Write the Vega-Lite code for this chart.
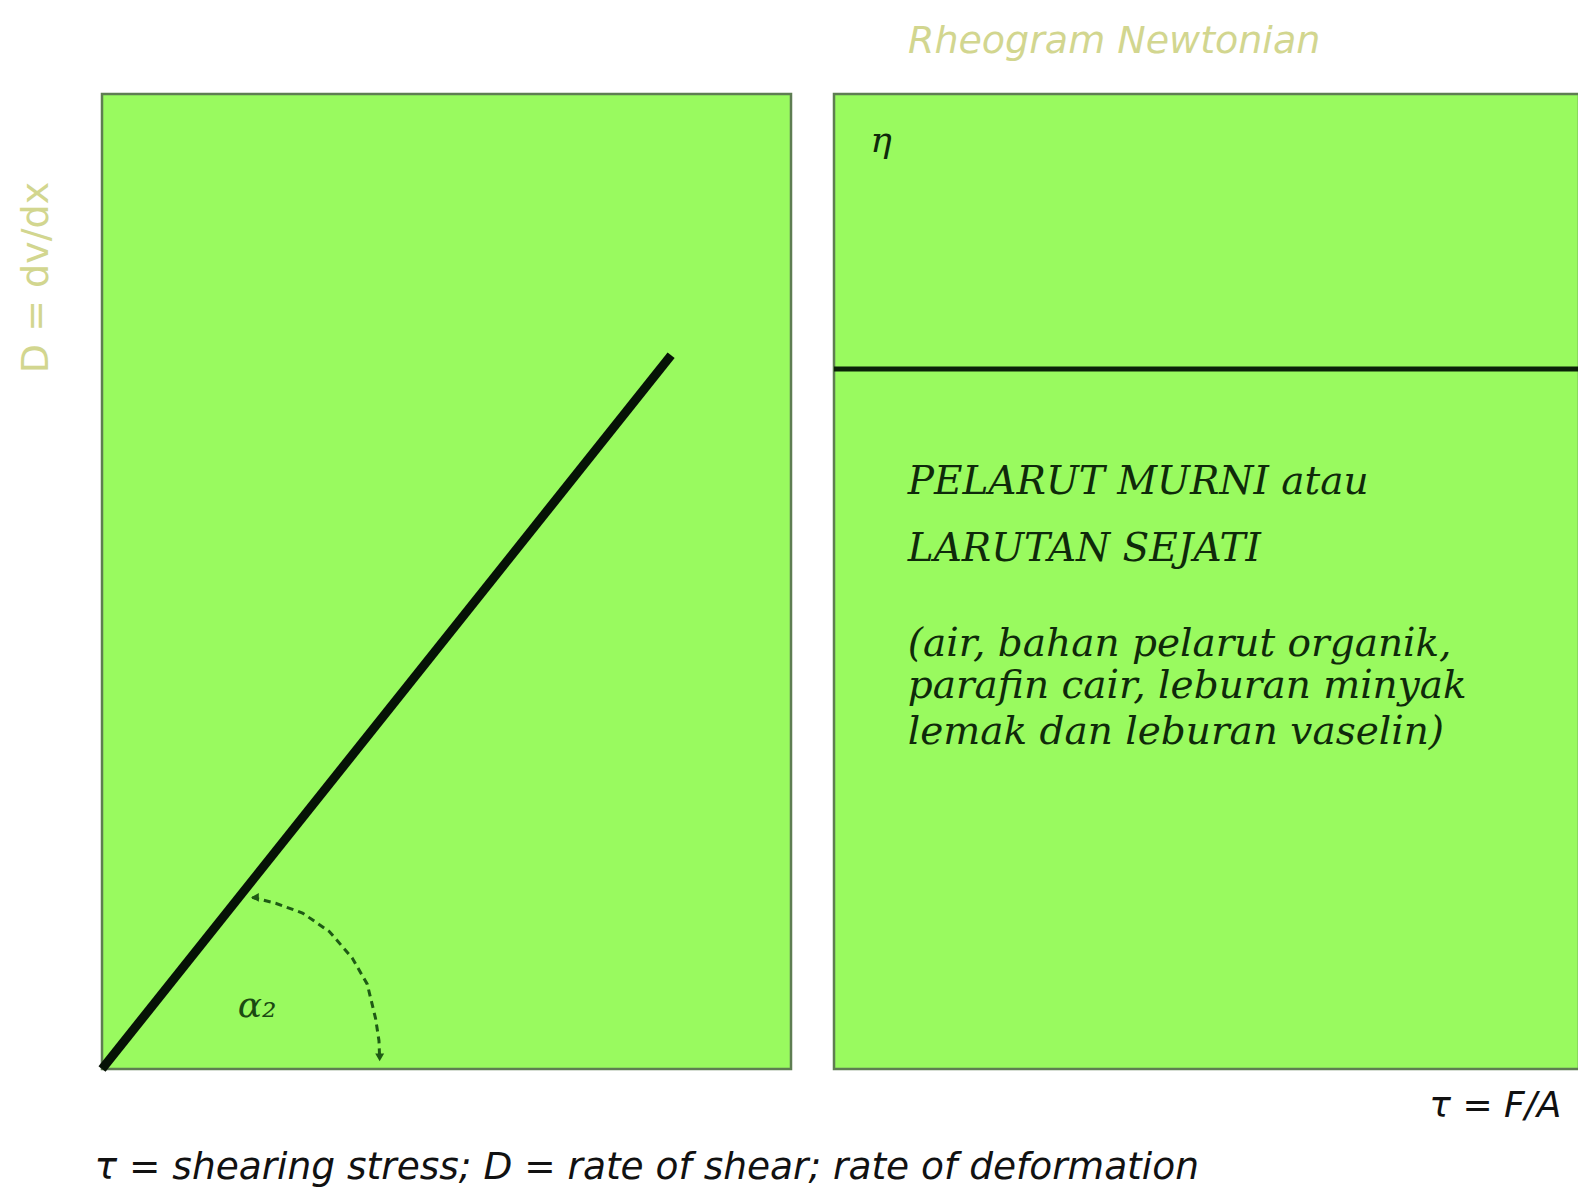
{
  "$schema": "https://vega.github.io/schema/vega-lite/v6.json",
  "background": "white",
  "padding": {"left": 15, "top": 21, "right": 0, "bottom": 0},
  "bounds": "flush",
  "spacing": 43,
  "datasets": {
    "diag": [{"x": 0, "y": 0}, {"x": 0.826, "y": 0.732}],
    "arc": [
      {"x": 0.218, "y": 0.176, "o": 1},
      {"x": 0.252, "y": 0.170, "o": 2},
      {"x": 0.291, "y": 0.160, "o": 3},
      {"x": 0.330, "y": 0.141, "o": 4},
      {"x": 0.363, "y": 0.114, "o": 5},
      {"x": 0.385, "y": 0.087, "o": 6},
      {"x": 0.397, "y": 0.052, "o": 7},
      {"x": 0.402, "y": 0.029, "o": 8},
      {"x": 0.403, "y": 0.010, "o": 9}
    ],
    "heads": [
      {"x": 0.222, "y": 0.176, "s": "triangle-left"},
      {"x": 0.403, "y": 0.012, "s": "triangle-down"}
    ],
    "alpha": [{"x": 0.225, "y": 0.065, "t": "α₂"}],
    "flat": [{"x": 0, "y": 0.718}, {"x": 1, "y": 0.718}],
    "eta": [{"x": 0.063, "y": 0.952, "t": "η"}],
    "lines": [
      {"x": 0.099, "y": 0.590, "t": "PELARUT MURNI atau"},
      {"x": 0.099, "y": 0.521, "t": "LARUTAN SEJATI"},
      {"x": 0.099, "y": 0.424, "t": "(air, bahan pelarut organik,"},
      {"x": 0.099, "y": 0.381, "t": "parafin cair, leburan minyak"},
      {"x": 0.099, "y": 0.333, "t": "lemak dan leburan vaselin)"}
    ]
  },
  "hconcat": [
    {
      "width": 689,
      "height": 975,
      "view": {"fill": "#99fa5f", "stroke": "#5e7d52", "strokeWidth": 2.5},
      "encoding": {
        "x": {
          "field": "x", "type": "quantitative",
          "scale": {"domain": [0, 1], "nice": false, "zero": false},
          "axis": {
            "title": "τ = shearing stress; D = rate of shear; rate of deformation",
            "labels": false, "ticks": false, "domain": false, "grid": false,
            "titleX": -8, "titleY": 109, "titleAlign": "left", "titleBaseline": "alphabetic",
            "titleFont": "DejaVu Sans", "titleFontStyle": "italic", "titleFontWeight": "normal",
            "titleFontSize": 37.5, "titleColor": "#111111", "titleLimit": 2000
          }
        },
        "y": {
          "field": "y", "type": "quantitative",
          "scale": {"domain": [0, 1], "nice": false, "zero": false},
          "axis": {
            "title": "D = dv/dx",
            "labels": false, "ticks": false, "domain": false, "grid": false,
            "titleX": -66, "titleY": 183, "titleAngle": -90, "titleAlign": "center", "titleBaseline": "middle",
            "titleFont": "DejaVu Sans", "titleFontWeight": "normal", "titleFontSize": 38,
            "titleColor": "#d2d68f", "titleLimit": 2000
          }
        }
      },
      "layer": [
        {
          "data": {"name": "diag"},
          "mark": {"type": "line", "color": "#061206", "strokeWidth": 9}
        },
        {
          "data": {"name": "arc"},
          "mark": {"type": "line", "color": "#1e5a14", "strokeWidth": 3, "strokeDash": [7, 5]},
          "encoding": {"order": {"field": "o", "type": "quantitative"}}
        },
        {
          "data": {"name": "heads"},
          "mark": {"type": "point", "filled": true, "color": "#1e5a14", "size": 80, "opacity": 1},
          "encoding": {"shape": {"field": "s", "type": "nominal", "scale": null, "legend": null}}
        },
        {
          "data": {"name": "alpha"},
          "mark": {"type": "text", "font": "DejaVu Serif", "fontStyle": "italic", "fontSize": 36, "color": "#1b4a12", "align": "center", "baseline": "middle"},
          "encoding": {"text": {"field": "t"}}
        }
      ]
    },
    {
      "width": 745,
      "height": 975,
      "view": {"fill": "#99fa5f", "stroke": "#5e7d52", "strokeWidth": 2.5},
      "title": {
        "text": "Rheogram Newtonian", "anchor": "start", "dx": 84, "offset": 33,
        "font": "DejaVu Sans", "fontStyle": "italic", "fontWeight": "normal", "fontSize": 38,
        "color": "#d2d68f"
      },
      "encoding": {
        "x": {
          "field": "x", "type": "quantitative",
          "scale": {"domain": [0, 1], "nice": false, "zero": false},
          "axis": {
            "title": "τ = F/A",
            "labels": false, "ticks": false, "domain": false, "grid": false,
            "titleX": 727, "titleY": 47, "titleAlign": "right", "titleBaseline": "alphabetic",
            "titleFont": "DejaVu Sans", "titleFontStyle": "italic", "titleFontWeight": "normal",
            "titleFontSize": 36, "titleColor": "#111111"
          }
        },
        "y": {
          "field": "y", "type": "quantitative",
          "scale": {"domain": [0, 1], "nice": false, "zero": false},
          "axis": null
        }
      },
      "layer": [
        {
          "data": {"name": "flat"},
          "mark": {"type": "line", "color": "#0b2208", "strokeWidth": 5}
        },
        {
          "data": {"name": "eta"},
          "mark": {"type": "text", "font": "DejaVu Serif", "fontStyle": "italic", "fontSize": 36, "color": "#0f2a0a", "align": "center", "baseline": "middle"},
          "encoding": {"text": {"field": "t"}}
        },
        {
          "data": {"name": "lines"},
          "mark": {"type": "text", "font": "DejaVu Serif", "fontStyle": "italic", "fontSize": 39, "color": "#0f2a0a", "align": "left", "baseline": "alphabetic"},
          "encoding": {"text": {"field": "t"}}
        }
      ]
    }
  ]
}
